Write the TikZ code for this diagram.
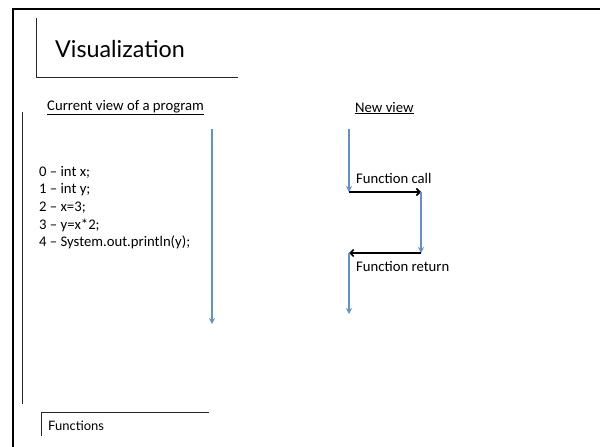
\documentclass[tikz,border=0pt]{standalone}
\usepackage{fontspec}
\setmainfont{Carlito}
\newfontfamily\gillfont{Lato}
\usetikzlibrary{arrows.meta}
\definecolor{flowblue}{RGB}{96,146,206}
\tikzset{
  frame/.style={line width=2.6pt, black},
  thin/.style={line width=0.9pt, black!85},
  body/.style={font=\fontsize{14.7}{17}\selectfont, inner sep=0pt, anchor=base west},
  flow/.style={line width=1.8pt, flowblue, -{Stealth[length=6pt,width=6pt]}},
  jump/.style={line width=1.6pt, black, -{Straight Barb[length=3.5pt,width=7pt]}},
}
\begin{document}
\begin{tikzpicture}[x=1pt,y=-1pt]
\useasboundingbox (0,0) rectangle (600,447);
% outer frame
\draw[frame] (13,447) -- (13,9) -- (600,9);
% title box
\draw[thin] (36,18) -- (36,77) -- (238,77);
\node[inner sep=0pt, anchor=base west, font=\gillfont\fontsize{23.3}{26}\selectfont] (title) at (55,57.5) {Visualization};
% left rule
\draw[thin] (22,112) -- (22,404);
% headings
\node[body] (cur) at (47,110.5) {\underline{Current view of a program}};
\node[body] (new) at (355,112) {\underline{New view}};
% code lines
\node[body] (c0) at (39,176) {0 – int x;};
\node[body] (c1) at (39,193.7) {1 – int y;};
\node[body] (c2) at (39,211.4) {2 – x=3;};
\node[body] (c3) at (39,229.1) {3 – y=x*2;};
\node[body] (c4) at (39,246.8) {4 – System.out.println(y);};
% left flow
\coordinate (la) at (212,129);
\coordinate (lb) at (212,324);
\draw[flow] (la) -- (lb);
% new view flow
\coordinate (n0) at (349,129);
\coordinate (n1) at (349,192);
\coordinate (n2) at (421,192);
\coordinate (n3) at (421,253);
\coordinate (n4) at (349,253);
\coordinate (n5) at (349,314);
\draw[flow] (n0) -- (n1);
\draw[jump] (n1) -- (n2);
\draw[flow] (n2) -- (n3);
\draw[jump] (n3) -- (n4);
\draw[flow] (n4) -- (n5);
\node[body] (fcall) at (356,183) {Function call};
\node[body] (fret) at (356,271) {Function return};
% functions box
\draw[thin] (41,436) -- (41,412) -- (209,412);
\node[inner sep=0pt, anchor=base west, font=\gillfont\fontsize{13}{15}\selectfont] (fun) at (48,430.5) {Functions};
\end{tikzpicture}
\end{document}
